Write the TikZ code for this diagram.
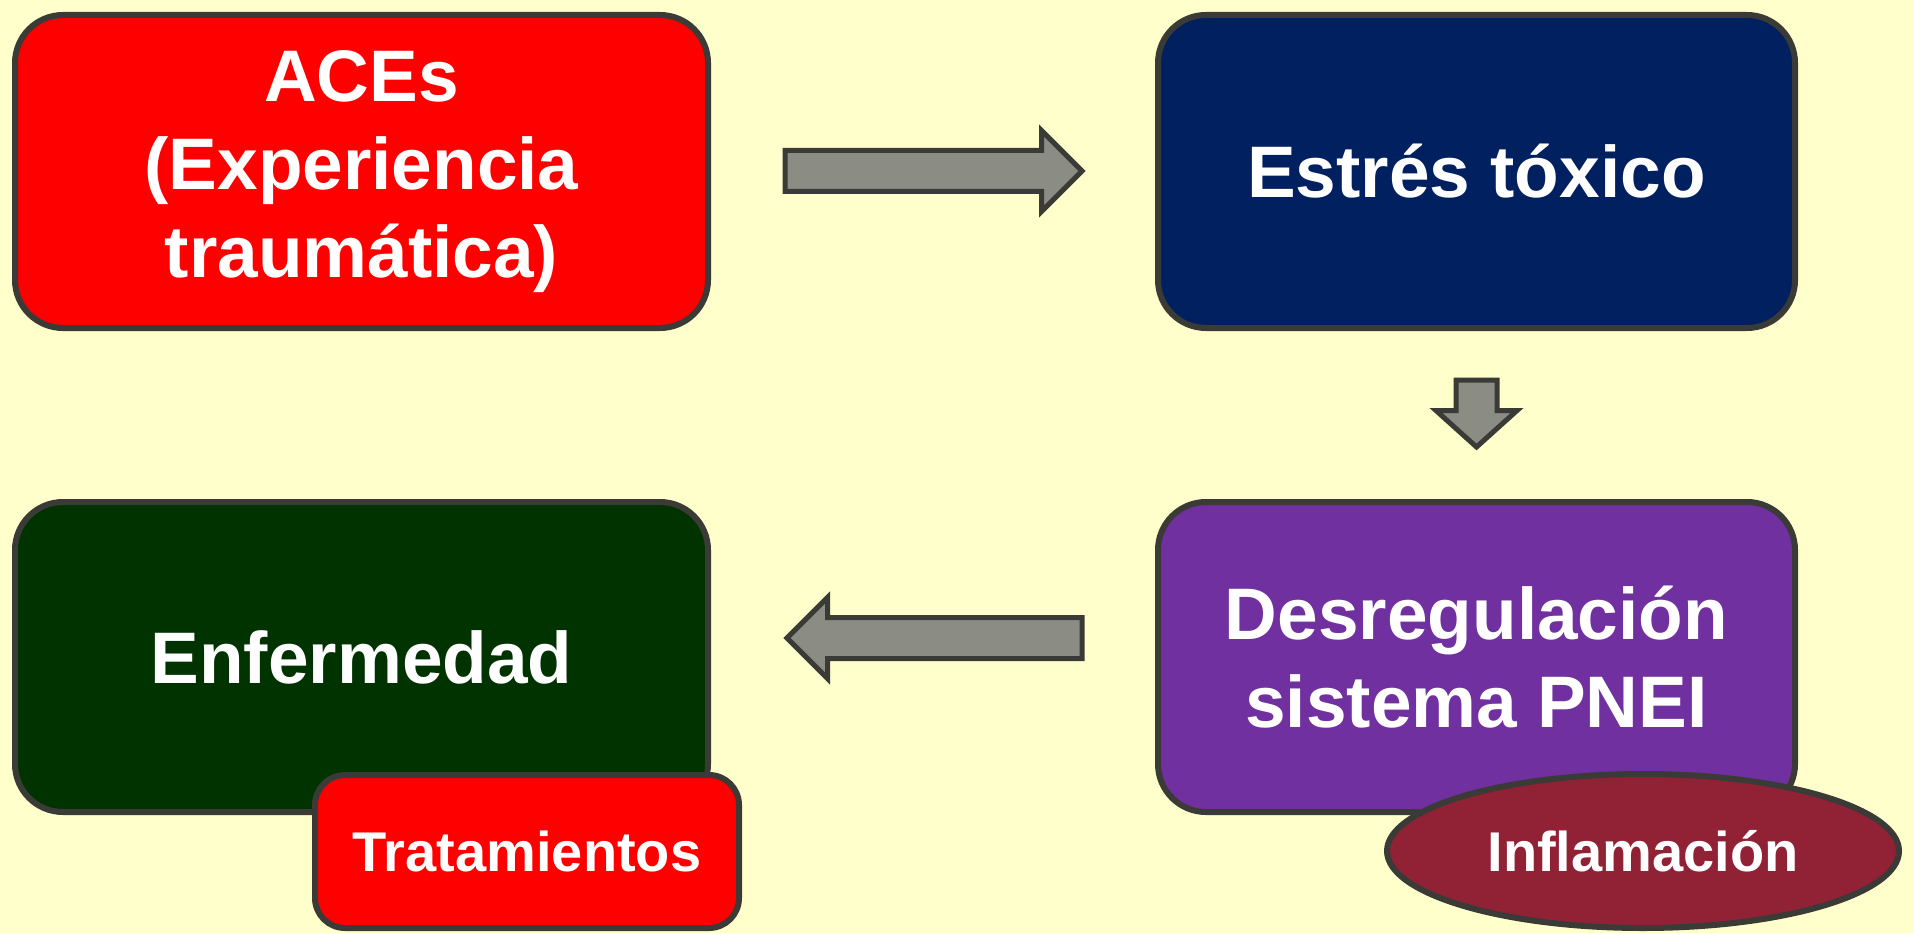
\documentclass[tikz,border=0pt]{standalone}
\usepackage{fontspec}
\setmainfont{Liberation Sans}
\usetikzlibrary{shapes.geometric,shapes.arrows}
\definecolor{bgyellow}{HTML}{FFFFCC}
\definecolor{acered}{HTML}{FF0000}
\definecolor{estresblue}{HTML}{002060}
\definecolor{enfgreen}{HTML}{003300}
\definecolor{pneipurple}{HTML}{7030A0}
\definecolor{inflwine}{HTML}{912236}
\definecolor{arrowgray}{HTML}{8B8C84}
\definecolor{edgegray}{HTML}{3A3A36}

\begin{document}
\begin{tikzpicture}[x=1pt,y=-1pt,
    box/.style={draw=edgegray,line width=6pt,rounded corners=48pt,outer sep=0pt,
      text=white,align=center,font=\fontsize{73}{88}\selectfont\bfseries},
    smallbox/.style={box,rounded corners=30pt,font=\fontsize{56}{66}\selectfont\bfseries},
    bigarrow/.style={single arrow,draw=edgegray,fill=arrowgray,line width=5pt,
      outer sep=0pt,inner sep=18pt,single arrow head extend=20pt,anchor=tail}]
    \fill[bgyellow] (0,0) rectangle (1914,933);
    \useasboundingbox (0,0) rectangle (1914,933);
    % cajas
    \node (aces) at (361.5,171.5) [box,fill=acered,minimum width=693pt,minimum height=313pt]
      {ACEs\\(Experiencia\\traumática)};
    \node (estres) at (1476.5,171.5) [box,fill=estresblue,minimum width=637pt,minimum height=313pt]
      {Estrés tóxico};
    \node (enf) at (361.5,657) [box,fill=enfgreen,minimum width=693pt,minimum height=310pt]
      {Enfermedad};
    \node (pnei) at (1476.5,657) [box,fill=pneipurple,minimum width=637pt,minimum height=310pt]
      {Desregulación\\sistema PNEI};
    \node (trat) at (527,851.5) [smallbox,fill=acered,minimum width=424pt,minimum height=153pt]
      {Tratamientos};
    \node (infl) at (1643,851) [smallbox,ellipse,fill=inflwine,inner sep=0pt,
      minimum width=512pt,minimum height=154pt] {Inflamación};
    % flechas
    \node (a1) at (785,171) [bigarrow,minimum height=297pt] {};
    \node (a2) at (1476.5,380) [bigarrow,shape border rotate=270,single arrow tip angle=96,
      minimum height=67pt] {};
    \node (a3) at (1082,638) [bigarrow,shape border rotate=180,
      minimum height=295pt] {};
\end{tikzpicture}
\end{document}
